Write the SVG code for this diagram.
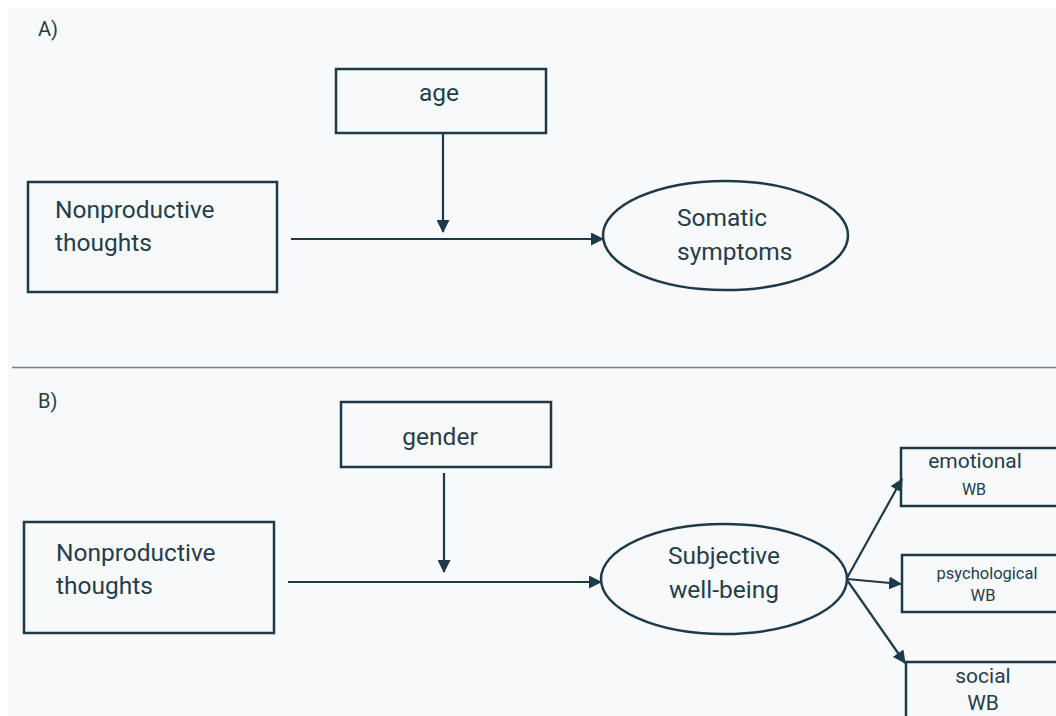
<svg xmlns="http://www.w3.org/2000/svg" width="1056" height="716" viewBox="0 0 1056 716">
<style>
.box{fill:none;stroke:#1e3a48;stroke-width:2.5}
.ell{fill:none;stroke:#1e3a48;stroke-width:2.5}
.ln{fill:none;stroke:#1e3a48;stroke-width:2.2}
text{font-family:Roboto,"Liberation Sans",sans-serif;fill:#263d4a}
.t22{font-size:24.5px}
.t20{font-size:21px}
.t16{font-size:16.5px}
.t15{font-size:16px}
.lbl{font-size:20px}
.c{text-anchor:middle}
</style>
<defs>
<marker id="ah" markerWidth="13" markerHeight="13" refX="12" refY="6.5" orient="auto" markerUnits="userSpaceOnUse">
<path d="M0,0 L13,6.5 L0,13 Z" fill="#1e3a48"/>
</marker>
</defs>
<rect x="0" y="0" width="1056" height="716" fill="#ffffff"/>
<rect x="8" y="8" width="1048" height="708" fill="#f8f9fa"/>
<line x1="12" y1="367.5" x2="1056" y2="367.5" stroke="#74858f" stroke-width="1.5"/>
<text x="38" y="36" class="lbl">A)</text>
<text x="38" y="408" class="lbl">B)</text>

<g id="connectors">
<line class="ln" x1="443" y1="134" x2="443" y2="232" marker-end="url(#ah)"/>
<line class="ln" x1="291" y1="239" x2="603" y2="239" marker-end="url(#ah)"/>
<line class="ln" x1="444" y1="473" x2="444" y2="572" marker-end="url(#ah)"/>
<line class="ln" x1="288" y1="582" x2="601" y2="582" marker-end="url(#ah)"/>
<line class="ln" x1="847" y1="578" x2="902" y2="479" marker-end="url(#ah)"/>
<line class="ln" x1="847" y1="579" x2="901" y2="584" marker-end="url(#ah)"/>
<line class="ln" x1="847" y1="580" x2="905" y2="663" marker-end="url(#ah)"/>
</g>

<g id="age">
<rect class="box" x="336" y="69" width="210" height="64"/>
<text x="439" y="101" class="t22 c">age</text>
</g>
<g id="nonproductive-a">
<rect class="box" x="28" y="182" width="249" height="110"/>
<text x="55" y="218" class="t22">Nonproductive</text>
<text x="55" y="251" class="t22">thoughts</text>
</g>
<g id="somatic">
<ellipse class="ell" cx="725.5" cy="235.5" rx="122.5" ry="54.5"/>
<text x="677" y="226" class="t22">Somatic</text>
<text x="677" y="260" class="t22">symptoms</text>
</g>

<g id="gender">
<rect class="box" x="341" y="402" width="210" height="65"/>
<text x="440" y="445" class="t22 c">gender</text>
</g>
<g id="nonproductive-b">
<rect class="box" x="24" y="522" width="250" height="111"/>
<text x="56" y="561" class="t22">Nonproductive</text>
<text x="56" y="594" class="t22">thoughts</text>
</g>
<g id="swb">
<ellipse class="ell" cx="724" cy="579" rx="123" ry="55"/>
<text x="724" y="564" class="t22 c">Subjective</text>
<text x="724" y="598" class="t22 c">well-being</text>
</g>
<g id="emotional">
<rect class="box" x="901" y="448" width="170" height="58"/>
<text x="975" y="468" class="t20 c">emotional</text>
<text x="974" y="495" class="t15 c">WB</text>
</g>
<g id="psychological">
<rect class="box" x="902" y="555" width="170" height="57"/>
<text x="987" y="579" class="t16 c">psychological</text>
<text x="983" y="601" class="t16 c">WB</text>
</g>
<g id="social">
<rect class="box" x="906" y="662" width="170" height="70"/>
<text x="983" y="683" class="t20 c">social</text>
<text x="983" y="710" class="t20 c">WB</text>
</g>
</svg>
